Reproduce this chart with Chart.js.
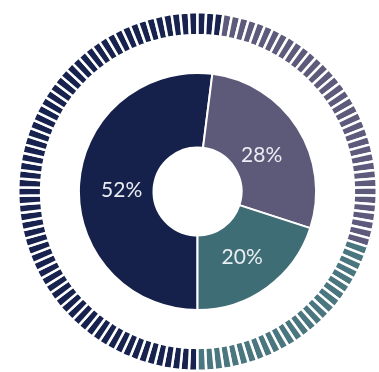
<!DOCTYPE html>
<html>
<head>
  <meta charset="utf-8" />
  <title>Share donut</title>
  <style>
    html, body { margin: 0; padding: 0; background: #ffffff; }
    #wrap { width: 379px; height: 372px; }
  </style>
</head>
<body>
<div id="wrap">
  <canvas id="myChart" width="379" height="372"></canvas>
</div>

<script src="https://cdn.jsdelivr.net/npm/chart.js"></script>
<script>
  // chart data
  const labels = ["A", "B", "C"];
  const shares = [52, 28, 20];
  const colors = ["#15214b", "#5c5979", "#3f6d76"];
  const ringColors = ["#17234e", "#5d5a7c", "#4a767f"];
  const tickCount = 130;

  // outer ring of dashes, coloured by which slice they fall in
  const total = shares.reduce((a, b) => a + b, 0);
  const tickColors = [];
  for (let i = 0; i < tickCount; i++) {
    const pos = (i + 0.5) / tickCount * total;
    let cum = 0, k = 0;
    for (k = 0; k < shares.length; k++) {
      cum += shares[k];
      if (pos < cum) break;
    }
    tickColors.push(ringColors[Math.min(k, shares.length - 1)]);
  }

  // draws the percentage text in each slice
  const sliceLabels = {
    id: 'sliceLabels',
    afterDatasetsDraw(chart) {
      const ctx = chart.ctx;
      const meta = chart.getDatasetMeta(2);
      ctx.save();
      ctx.font = '400 21px Lato, "Open Sans", sans-serif';
      ctx.fillStyle = '#e9eef3';
      ctx.textAlign = 'center';
      ctx.textBaseline = 'middle';
      meta.data.forEach((arc, i) => {
        const mid = (arc.startAngle + arc.endAngle) / 2;
        const r = 76;
        const x = arc.x + Math.cos(mid) * r;
        const y = arc.y + Math.sin(mid) * r + 4;
        ctx.fillText(shares[i] + '%', x, y);
      });
      ctx.restore();
    }
  };

  new Chart(document.getElementById('myChart'), {
    type: 'doughnut',
    data: {
      labels: labels,
      datasets: [
        {
          // dashed ring
          data: Array(tickCount).fill(1),
          backgroundColor: tickColors,
          borderColor: '#ffffff',
          borderWidth: 2.5,
          weight: 23
        },
        {
          // empty gap between ring and donut
          data: [1],
          backgroundColor: 'rgba(0,0,0,0)',
          borderWidth: 0,
          weight: 38
        },
        {
          data: shares,
          backgroundColor: colors,
          borderColor: '#ffffff',
          borderWidth: 2,
          weight: 75
        }
      ]
    },
    options: {
      responsive: false,
      animation: false,
      rotation: 180,
      cutout: 44,
      layout: { padding: { left: 16, top: 11, right: 0, bottom: 0 } },
      plugins: {
        legend: { display: false },
        tooltip: { enabled: false }
      }
    },
    plugins: [sliceLabels]
  });
</script>
</body>
</html>
